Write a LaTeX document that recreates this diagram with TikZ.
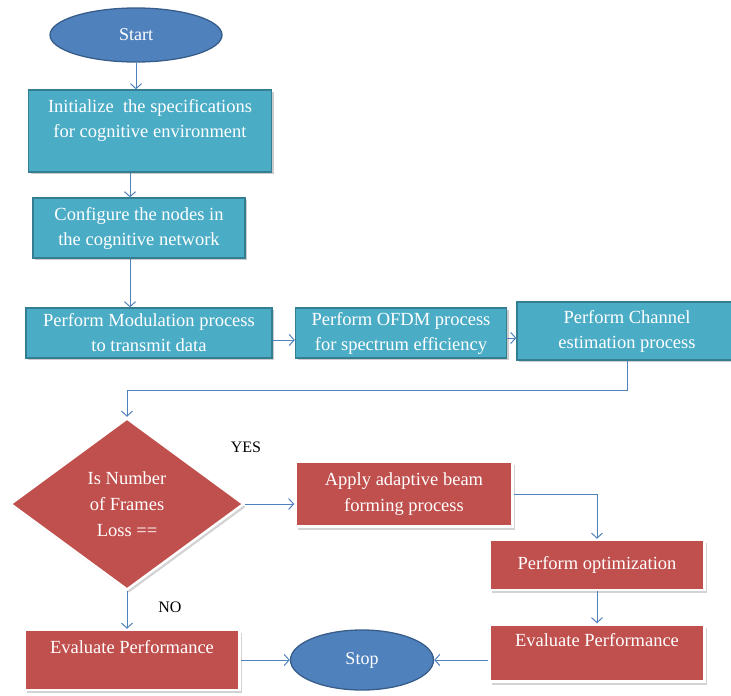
\documentclass[tikz,border=0pt]{standalone}
\usepackage{fontspec}
\setmainfont{Liberation Serif}
\usetikzlibrary{shapes.geometric,shadows,arrows.meta}
\definecolor{aquafill}{HTML}{4BACC6}
\definecolor{aqualine}{HTML}{357D91}
\definecolor{redfill}{HTML}{C0504D}
\definecolor{blueshape}{HTML}{4F81BD}
\definecolor{blueline}{HTML}{385D8A}

\begin{document}
\begin{tikzpicture}[x=1pt, y=-1pt, >={Straight Barb[length=5pt,width=11pt]},
        aquabox/.style={rectangle, draw=aqualine, line width=1.3pt, fill=aquafill, text=white,
            align=center, inner sep=0pt, font=\fontsize{18.5}{25}\selectfont,
            drop shadow={shadow xshift=2pt, shadow yshift=-2pt, fill=black!50, opacity=0.4}},
        redbox/.style={rectangle, draw=white, line width=2.5pt, fill=redfill, text=white,
            align=center, inner sep=0pt, font=\fontsize{18.5}{26}\selectfont,
            drop shadow={shadow xshift=2pt, shadow yshift=-3pt, fill=black!50, opacity=0.35}},
        terminal/.style={ellipse, draw=blueline, line width=1.3pt, fill=blueshape, text=white,
            inner sep=0pt, font=\fontsize{18}{25}\selectfont},
        flow/.style={->, draw=blueshape, line width=1pt},
        answer/.style={font=\fontsize{16}{20}\selectfont, text=black}]
        % ==== FRAME ====
        \useasboundingbox (0,0) rectangle (731,696);
        \clip (0,0) rectangle (731,696);

        % ==== TOP COLUMN ====
        \node[terminal, minimum width=172pt, minimum height=54pt] (start) at (136,35) {Start};
        \node[aquabox, minimum width=243pt, minimum height=82pt] (init) at (150,131)
            {Initialize\ \ the specifications\\for cognitive environment\\ \mbox{}};
        \node[aquabox, minimum width=212pt, minimum height=60pt] (config) at (139,228)
            {Configure the nodes in\\the cognitive network};

        % ==== PROCESS ROW ====
        \node[aquabox, minimum width=246pt, minimum height=50pt] (modul) at (149,333)
            {Perform Modulation process\\to transmit data};
        \node[aquabox, minimum width=211pt, minimum height=50pt] (ofdm) at (401,333)
            {Perform OFDM process\\for spectrum efficiency};
        \node[aquabox, minimum width=220pt, minimum height=58pt] (chan) at (627,331)
            {Perform Channel\\estimation process};

        % ==== DECISION ====
        \node[redbox, shape=diamond, minimum width=234pt, minimum height=172pt] (check) at (127,504)
            {Is Number\\of Frames\\Loss ==};
        \node[answer] (yes) at (246,447) {YES};
        \node[answer] (no) at (170,607) {NO};

        % ==== RIGHT BRANCH ====
        \node[redbox, minimum width=217pt, minimum height=65pt] (beam) at (404,494)
            {Apply adaptive beam\\forming process};
        \node[redbox, minimum width=215pt, minimum height=50pt] (optim) at (597,565)
            {Perform optimization};
        \node[redbox, minimum width=215pt, minimum height=57pt] (evalR) at (597,653)
            {Evaluate Performance\\ \mbox{}};

        % ==== END ====
        \node[redbox, minimum width=215pt, minimum height=60pt] (evalL) at (132,660)
            {Evaluate Performance\\ \mbox{}};
        \node[terminal, minimum width=143pt, minimum height=60pt] (stop) at (362,660) {Stop};

        % ==== CONNECTORS ====
        \draw[flow] (start.south) -- (start.south |- init.north);
        \draw[flow] ([xshift=-20pt]init.south) -- ([xshift=-20pt]init.south |- config.north);
        \draw[flow] ([xshift=-9pt]config.south) -- ([xshift=-9pt]config.south |- modul.north);
        \draw[flow] ([yshift=-7pt]modul.east) -- ([yshift=-7pt]ofdm.west);
        \draw[flow] ([yshift=-5pt]ofdm.east) -- ([yshift=-5pt]ofdm.east -| chan.west);
        \draw[flow] (chan.south) -- ++(0,30) -| (check.north);
        \draw[flow] (check.east) -- (check.east -| beam.west);
        \draw[flow] (beam.east) -| (optim.north);
        \draw[flow] (optim.south) -- (evalR.north);
        \draw[flow] (evalR.west |- stop) -- (stop.east);
        \draw[flow] (evalL.east |- stop) -- (stop.west);
        \draw[flow] (check.south) -- (check.south |- evalL.north);
     \end{tikzpicture}
\end{document}
